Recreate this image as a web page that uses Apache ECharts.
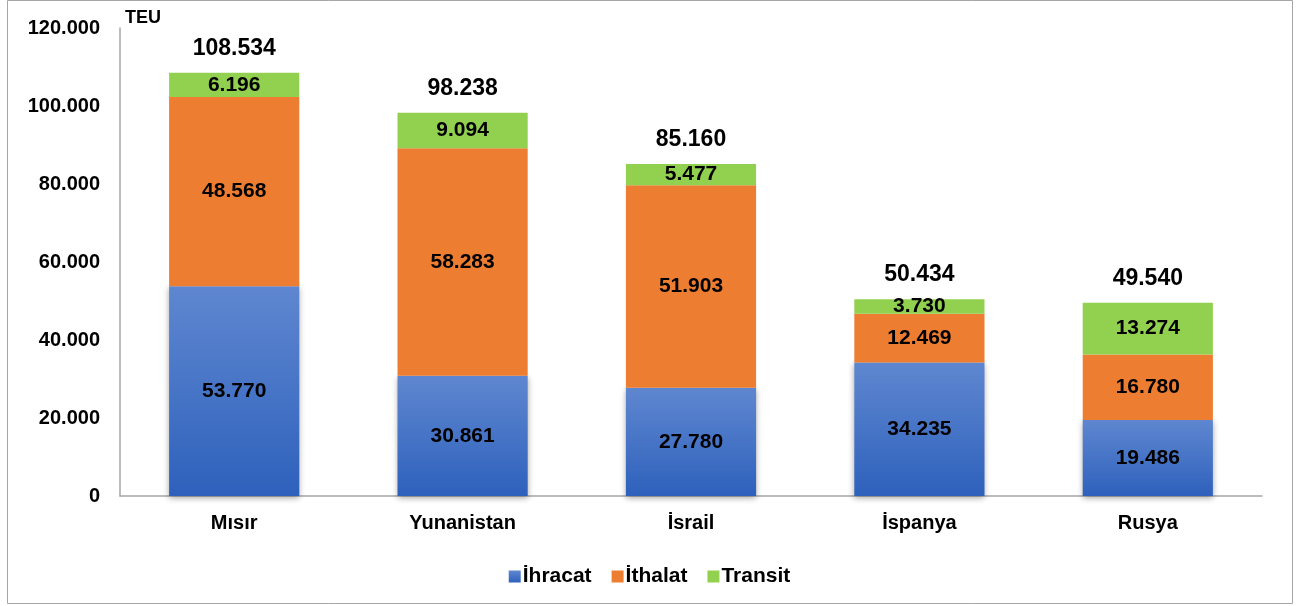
<!DOCTYPE html>
<html>
<head>
<meta charset="utf-8">
<script src="https://cdn.jsdelivr.net/npm/echarts@6/dist/echarts.min.js"></script>
<style>
  html, body { margin: 0; padding: 0; background: #fff; }
  #main { width: 1299px; height: 606px; }
</style>
</head>
<body>
<div id="main"></div>
<script>
// ülkeler ve TEU değerleri
var ulkeler = ['Mısır', 'Yunanistan', 'İsrail', 'İspanya', 'Rusya'];
var ihracat = [53770, 30861, 27780, 34235, 19486];
var ithalat = [48568, 58283, 51903, 12469, 16780];
var transit = [6196, 9094, 5477, 3730, 13274];
var toplam = [108534, 98238, 85160, 50434, 49540];
var yEtiketleri = [0, 20000, 40000, 60000, 80000, 100000, 120000];

function fmt(v) {
    return String(v).replace(/\B(?=(\d{3})+(?!\d))/g, '.');
}

var chart = echarts.init(document.getElementById('main'));
var font = 'Liberation Sans, Arial, sans-serif';

var etiket = {
    show: true,
    position: 'inside',
    color: '#000',
    fontWeight: 'bold',
    fontSize: 21,
    fontFamily: font,
    formatter: function (p) { return fmt(p.value); }
};

chart.setOption({
    animation: false,
    grid: { left: 120, right: 37, top: 28, bottom: 110 },
    graphic: [{
        type: 'rect',
        shape: { x: 7.5, y: 0.5, width: 1285, height: 603 },
        style: { fill: 'none', stroke: '#a6a6a6', lineWidth: 1 },
        silent: true
    }, {
        type: 'text',
        left: 125, top: 9,
        style: { text: 'TEU', font: 'bold 18px ' + font, fill: '#000' }
    }],
    legend: {
        bottom: 14,
        left: 'center',
        itemWidth: 12,
        itemHeight: 12,
        itemGap: 20,
        icon: 'rect',
        textStyle: { fontWeight: 'bold', fontSize: 21, fontFamily: font, color: '#000', padding: [0, 0, 0, -3] },
        data: ['İhracat', 'İthalat', 'Transit']
    },
    xAxis: {
        type: 'category',
        data: ulkeler,
        axisLine: { lineStyle: { color: '#a6a6a6', width: 1.5 } },
        axisTick: { show: false },
        axisLabel: { color: '#000', fontWeight: 'bold', fontSize: 20, fontFamily: font, margin: 17 }
    },
    yAxis: {
        type: 'value',
        min: 0,
        max: 120000,
        interval: 20000,
        splitLine: { show: false },
        axisLine: { show: true, lineStyle: { color: '#a6a6a6', width: 1.5 } },
        axisTick: { show: false },
        axisLabel: {
            color: '#000', fontWeight: 'bold', fontSize: 20, fontFamily: font, margin: 20,
            formatter: function (v) { return yEtiketleri.indexOf(v) >= 0 ? fmt(v) : ''; }
        }
    },
    series: [{
        name: 'İhracat',
        type: 'bar',
        stack: 'a',
        barWidth: '57%',
        data: ihracat,
        label: etiket,
        itemStyle: {
            color: new echarts.graphic.LinearGradient(0, 0, 0, 1, [
                { offset: 0, color: '#5f87d0' },
                { offset: 1, color: '#2e61bc' }
            ]),
            shadowColor: 'rgba(0,0,0,0.35)',
            shadowBlur: 6,
            shadowOffsetY: 2
        }
    }, {
        name: 'İthalat',
        type: 'bar',
        stack: 'a',
        data: ithalat,
        label: etiket,
        itemStyle: { color: '#ed7d31' }
    }, {
        name: 'Transit',
        type: 'bar',
        stack: 'a',
        data: transit,
        label: etiket,
        itemStyle: { color: '#92d050' }
    }, {
        name: 'toplam',
        type: 'bar',
        stack: 'a',
        data: toplam.map(function () { return 0; }),
        itemStyle: { color: 'transparent' },
        label: {
            show: true,
            position: 'top',
            distance: 13,
            color: '#000',
            fontWeight: 'bold',
            fontSize: 23,
            fontFamily: font,
            formatter: function (p) { return fmt(toplam[p.dataIndex]); }
        }
    }]
});
</script>
</body>
</html>
